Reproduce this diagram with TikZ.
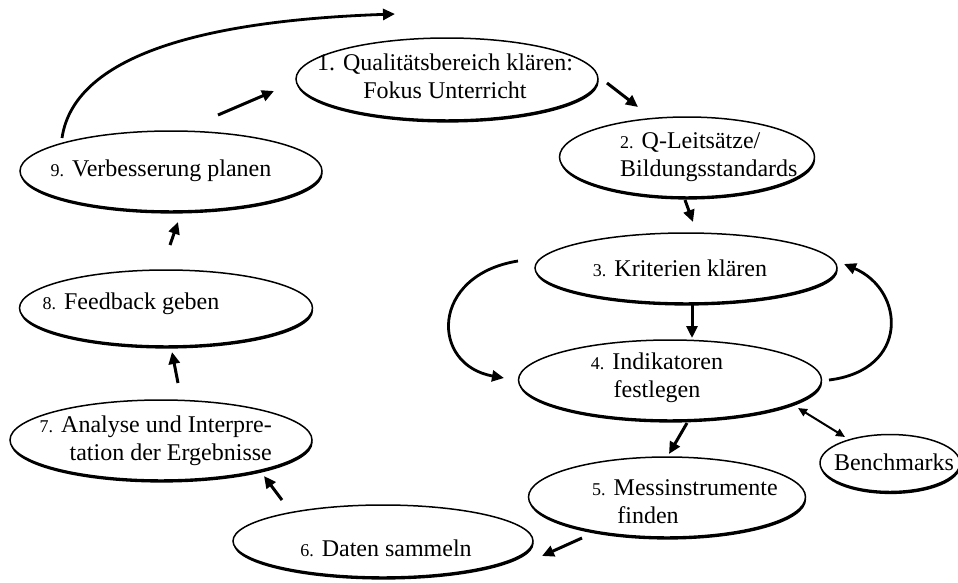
\documentclass[tikz,border=0pt]{standalone}
\usepackage{fontspec}
\setmainfont{Liberation Serif}
\usetikzlibrary{shapes.geometric,arrows.meta,shadows}

\begin{document}
\begin{tikzpicture}[x=1pt,y=-1pt,
  stage/.style={ellipse, draw=black, line width=1.5pt, fill=white, inner sep=0pt,
    drop shadow={shadow xshift=0.6pt, shadow yshift=-2.6pt, fill=black, opacity=1}},
  lbl/.style={font=\fontsize{24}{28}\selectfont, inner sep=0pt},
  flow/.style={line width=3pt, -{Triangle[length=12pt,width=11pt]}},
  loopflow/.style={line width=2.8pt, -{Triangle[length=12pt,width=11pt]}},
  both/.style={line width=2pt, {Triangle[length=9pt,width=8pt]}-{Triangle[length=9pt,width=8pt]}},
]
\newcommand\stepno[1]{{\fontsize{18}{28}\selectfont #1}}
\useasboundingbox (0,0) rectangle (958,582);

% stages of the cycle
\node[stage, minimum width=302pt, minimum height=82pt] (e1) at (447,79) {};
\node[stage, minimum width=255pt, minimum height=80pt] (e2) at (687,157) {};
\node[stage, minimum width=302pt, minimum height=70pt] (e3) at (686,268) {};
\node[stage, minimum width=303pt, minimum height=80pt] (e4) at (670,380) {};
\node[stage, minimum width=277pt, minimum height=80pt] (e5) at (667,497) {};
\node[stage, minimum width=300pt, minimum height=72pt] (e6) at (383,541) {};
\node[stage, minimum width=302pt, minimum height=80pt] (e7) at (161,440) {};
\node[stage, minimum width=293pt, minimum height=76pt] (e8) at (166,308) {};
\node[stage, minimum width=302pt, minimum height=80pt] (e9) at (171,171) {};
\node[stage, minimum width=140pt, minimum height=57pt] (eb) at (890,463) {};

% labels
\node[lbl, align=center] (t1) at (445,76) {1. Qualitätsbereich klären:\\Fokus Unterricht};
\node[lbl, align=left, anchor=west] (t2) at (620,157) {\stepno{2.} Q-Leitsätze/\\Bildungsstandards};
\node[lbl] (t3) at (680,268) {\stepno{3.} Kriterien klären};
\node[lbl, align=center] (t4) at (657,378) {\stepno{4.} Indikatoren\\festlegen};
\node[lbl, align=left, anchor=west] (t5) at (592,502) {\stepno{5.} Messinstrumente\\\hspace*{1.05em}finden};
\node[lbl] (t6) at (386,548) {\stepno{6.} Daten sammeln};
\node[lbl, align=right, anchor=east] (t7) at (272,441) {\stepno{7.} Analyse und Interpre-\\tation der Ergebnisse};
\node[lbl] (t8) at (131,304) {\stepno{8.} Feedback geben};
\node[lbl] (t9) at (161,171) {\stepno{9.} Verbesserung planen};
\node[lbl] (tb) at (894,462) {Benchmarks};

% arrow end points
\coordinate (a91s) at (218,115); \coordinate (a91e) at (274,91);
\coordinate (a12s) at (607,83);  \coordinate (a12e) at (638,107);
\coordinate (a23s) at (685,200); \coordinate (a23e) at (693,222);
\coordinate (a34s) at (692,304); \coordinate (a34e) at (692,338);
\coordinate (a45s) at (687,423); \coordinate (a45e) at (669,454);
\coordinate (a56s) at (582,538); \coordinate (a56e) at (542,556);
\coordinate (a67s) at (282,500); \coordinate (a67e) at (264,476);
\coordinate (a78s) at (178,383); \coordinate (a78e) at (172,352);
\coordinate (a89s) at (170,245); \coordinate (a89e) at (178,222);
\coordinate (abs) at (798,408);  \coordinate (abe) at (845,437);
\coordinate (loops) at (62,138); \coordinate (loope) at (395,14);
\coordinate (l34s) at (518,261); \coordinate (l34e) at (504,378);
\coordinate (r43s) at (829,380); \coordinate (r43e) at (844,264);

% connectors
\draw[flow] (a91s) -- (a91e);
\draw[flow] (a12s) -- (a12e);
\draw[flow] (a23s) -- (a23e);
\draw[flow] (a34s) -- (a34e);
\draw[flow] (a45s) -- (a45e);
\draw[flow] (a56s) -- (a56e);
\draw[flow] (a67s) -- (a67e);
\draw[flow] (a78s) -- (a78e);
\draw[flow] (a89s) -- (a89e);
\draw[both] (abs) -- (abe);
\draw[loopflow] (loops) .. controls (75,50) and (220,20) .. (loope);
\draw[loopflow] (l34s) .. controls (430,275) and (430,365) .. (l34e);
\draw[loopflow] (r43s) .. controls (910,370) and (905,290) .. (r43e);
\end{tikzpicture}
\end{document}
